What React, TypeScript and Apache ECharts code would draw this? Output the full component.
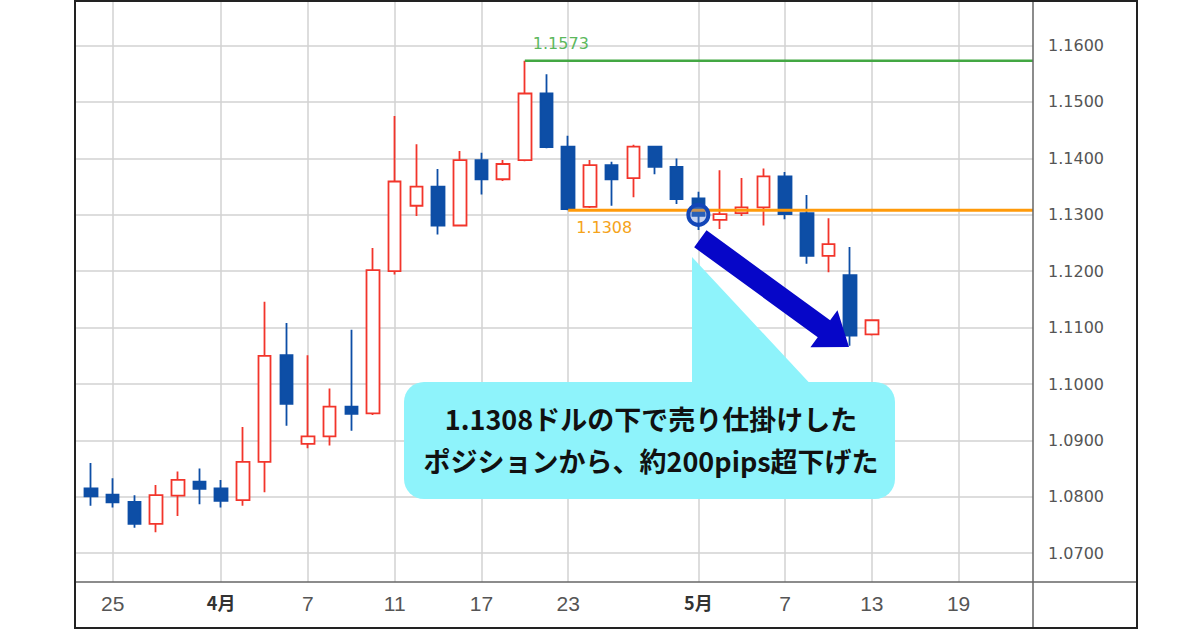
import React, { useEffect, useRef } from 'react';
import * as echarts from 'echarts';

// ---- data (EUR/USD daily) ----
const dates = [
  '3/24', '3/25', '3/26', '3/27', '3/28', '3/31', '4/1', '4/2', '4/3', '4/4',
  '4/7', '4/8', '4/9', '4/10', '4/11', '4/14', '4/15', '4/16', '4/17', '4/18',
  '4/21', '4/22', '4/23', '4/24', '4/25', '4/28', '4/29', '4/30', '5/1', '5/2',
  '5/5', '5/6', '5/7', '5/8', '5/9', '5/12', '5/13',
];
const opens = [
  1.0815, 1.0804, 1.0791, 1.0752, 1.0802, 1.0827, 1.0815, 1.0794, 1.0862, 1.1051,
  1.0894, 1.0907, 1.0960, 1.0948, 1.1200, 1.1316, 1.1350, 1.1281, 1.1397, 1.1363,
  1.1397, 1.1515, 1.1421, 1.1314, 1.1388, 1.1365, 1.1421, 1.1385, 1.1329, 1.1291,
  1.1303, 1.1313, 1.1368, 1.1303, 1.1227, 1.1193, 1.1088,
];
const closes = [
  1.0801, 1.0790, 1.0752, 1.0803, 1.0830, 1.0814, 1.0793, 1.0862, 1.1050, 1.0965,
  1.0907, 1.0960, 1.0947, 1.1202, 1.1359, 1.1350, 1.1281, 1.1397, 1.1363, 1.1390,
  1.1515, 1.1420, 1.1310, 1.1388, 1.1363, 1.1421, 1.1385, 1.1328, 1.1298, 1.1301,
  1.1313, 1.1368, 1.1301, 1.1227, 1.1248, 1.1086, 1.1113,
];
const lows = [
  1.0784, 1.0781, 1.0745, 1.0737, 1.0766, 1.0787, 1.0781, 1.0784, 1.0808, 1.0926,
  1.0886, 1.0891, 1.0917, 1.0945, 1.1194, 1.1298, 1.1265, 1.1280, 1.1336, 1.1360,
  1.1395, 1.1418, 1.1308, 1.1312, 1.1316, 1.1331, 1.1372, 1.1319, 1.1273, 1.1275,
  1.1298, 1.1281, 1.1292, 1.1213, 1.1198, 1.1068, 1.1086,
];
const highs = [
  1.0860, 1.0833, 1.0803, 1.0821, 1.0845, 1.0850, 1.0830, 1.0924, 1.1146, 1.1108,
  1.1051, 1.0992, 1.1096, 1.1241, 1.1475, 1.1425, 1.1381, 1.1413, 1.1410, 1.1397,
  1.1573, 1.1549, 1.1440, 1.1397, 1.1394, 1.1424, 1.1422, 1.1400, 1.1341, 1.1379,
  1.1365, 1.1382, 1.1376, 1.1335, 1.1294, 1.1243, 1.1115,
];

// x tick positions (trading-day index) and their labels
const xTickIdx = [1, 6, 10, 14, 18, 22, 28, 32, 36, 40];
const xTickText = ['25', '4月', '7', '11', '17', '23', '5月', '7', '13', '19'];
const yTicks = [1.07, 1.08, 1.09, 1.1, 1.11, 1.12, 1.13, 1.14, 1.15, 1.16];

// horizontal levels: [value, start index]
const highLevel = 1.1573;
const highLevelStart = 20;
const entryLevel = 1.1308;
const entryLevelStart = 22;
const entryIdx = 28; // 5/1 sell entry marker
const entryValue = 1.13;

const noteLines = ['1.1308ドルの下で売り仕掛けした', 'ポジションから、約200pips超下げた'];

const X_MIN = -0.74;
const X_MAX = 43.43;
const Y_MIN = 1.0649;
const Y_MAX = 1.1679;

const BLUE = '#0d4ea6';
const RED = '#f2352b';

export default function App() {
  const ref = useRef<HTMLDivElement>(null);
  useEffect(() => {
    if (!ref.current) return;
    const chart = echarts.init(ref.current, undefined, { renderer: 'svg' });
    const candles = dates.map((_, i) => [i, opens[i], closes[i], lows[i], highs[i]]);
    const monthSet = new Set(['4月', '5月']);
    chart.setOption({
      animation: false,
      backgroundColor: '#ffffff',
      grid: { left: 75, top: 1, right: 167, bottom: 48, containLabel: false },
      xAxis: {
        type: 'value',
        min: X_MIN,
        max: X_MAX,
        axisLine: { show: false },
        axisTick: { show: false, customValues: xTickIdx },
        splitLine: { show: true, lineStyle: { color: '#d2d2d2', width: 1.5 } },
        axisLabel: {
          customValues: xTickIdx,
          margin: 11,
          color: '#555',
          fontSize: 21,
          fontFamily: 'Liberation Sans Narrow, Liberation Sans, Noto Sans CJK JP',
          formatter: (v: number) => {
            const k = xTickIdx.indexOf(Math.round(v));
            if (k < 0) return '';
            const t = xTickText[k];
            return monthSet.has(t) ? '{b|' + t + '}' : t;
          },
          rich: {
            b: {
              fontWeight: 'bold',
              fontSize: 18,
              color: '#333',
              fontFamily: 'Noto Sans CJK JP',
            },
          },
        },
      },
      yAxis: {
        type: 'value',
        position: 'right',
        min: Y_MIN,
        max: Y_MAX,
        axisLine: { show: false },
        axisTick: { show: false, customValues: yTicks },
        splitLine: { show: true, lineStyle: { color: '#d2d2d2', width: 1.5 } },
        axisLabel: {
          customValues: yTicks,
          margin: 15,
          color: '#555',
          fontSize: 16,
          fontFamily: 'DejaVu Sans',
          formatter: (v: number) => v.toFixed(4),
        },
      },
      series: [
        {
          type: 'candlestick',
          data: candles,
          encode: { x: 0, y: [1, 2, 3, 4] },
          barWidth: 13,
          itemStyle: {
            color: '#ffffff',
            color0: BLUE,
            borderColor: RED,
            borderColor0: BLUE,
            borderWidth: 1.8,
          },
          z: 2,
        },
        {
          type: 'line',
          data: [[highLevelStart, highLevel], [X_MAX, highLevel]],
          symbol: 'none',
          lineStyle: { color: '#43a743', width: 2.5 },
          z: 3,
        },
        {
          type: 'line',
          data: [[entryLevelStart, entryLevel], [X_MAX, entryLevel]],
          symbol: 'none',
          lineStyle: { color: '#ff9a0a', width: 3 },
          z: 3,
        },
      ],
    });

    const px = (x: number, y: number) => chart.convertToPixel({ gridIndex: 0 }, [x, y]) as number[];
    const hp = px(highLevelStart, highLevel);
    const ep = px(entryLevelStart, entryLevel);
    const cp = px(entryIdx, entryValue);

    // arrow geometry
    const S = [cp[0] + 2, cp[1] + 24];
    const T = [849, 347];
    const dx = T[0] - S[0];
    const dy = T[1] - S[1];
    const len = Math.sqrt(dx * dx + dy * dy);
    const u = [dx / len, dy / len];
    const n = [-u[1], u[0]];
    const headLen = 31;
    const B = [T[0] - headLen * u[0], T[1] - headLen * u[1]];
    const p = (base: number[], k: number) => [base[0] + k * n[0], base[1] + k * n[1]];
    const arrowPts = [p(S, -10.5), p(B, -10.5), p(B, -23), T, p(B, 23), p(B, 10.5), p(S, 10.5)];

    const noteStyle = {
      fontSize: 27,
      fontWeight: 'bold',
      fontFamily: 'Noto Sans CJK JP',
      fill: '#111',
      align: 'center',
      verticalAlign: 'middle',
    };

    chart.setOption({
      graphic: [
        {
          type: 'polygon',
          z: 50,
          shape: { points: [[692, 257], [692, 390], [816, 390]] },
          style: { fill: '#8ef3fb' },
        },
        {
          type: 'rect',
          z: 50,
          shape: { x: 404, y: 382, width: 491, height: 117, r: 20 },
          style: { fill: '#8ef3fb' },
        },
        {
          type: 'text',
          z: 51,
          x: 651,
          y: 418,
          style: { ...noteStyle, text: noteLines[0] },
        },
        {
          type: 'text',
          z: 51,
          x: 651,
          y: 460,
          style: { ...noteStyle, text: noteLines[1] },
        },
        {
          type: 'polygon',
          z: 52,
          shape: { points: arrowPts },
          style: { fill: '#0606c8' },
        },
        {
          type: 'circle',
          z: 52,
          shape: { cx: cp[0], cy: cp[1], r: 10 },
          style: { fill: 'rgba(90,130,220,0.35)', stroke: '#1246b8', lineWidth: 4 },
        },
        {
          type: 'text',
          z: 52,
          x: hp[0] + 8,
          y: hp[1] - 17,
          style: {
            text: highLevel.toFixed(4),
            fontSize: 16,
            fontFamily: 'DejaVu Sans',
            fill: '#5cb85c',
            align: 'left',
            verticalAlign: 'middle',
          },
        },
        {
          type: 'text',
          z: 52,
          x: ep[0] + 8,
          y: ep[1] + 17,
          style: {
            text: entryLevel.toFixed(4),
            fontSize: 16,
            fontFamily: 'DejaVu Sans',
            fill: '#f5a31a',
            align: 'left',
            verticalAlign: 'middle',
          },
        },
        {
          type: 'line',
          z: 60,
          shape: { x1: 75, y1: 582, x2: 1137, y2: 582 },
          style: { stroke: '#666', lineWidth: 1.5 },
        },
        {
          type: 'line',
          z: 60,
          shape: { x1: 1033, y1: 1, x2: 1033, y2: 628 },
          style: { stroke: '#666', lineWidth: 1.5 },
        },
        {
          type: 'rect',
          z: 61,
          shape: { x: 75, y: 1, width: 1062, height: 627 },
          style: { fill: 'none', stroke: '#222', lineWidth: 2 },
        },
      ],
    });
    return () => chart.dispose();
  }, []);
  return (
    <div
      ref={ref}
      style={{ position: 'absolute', left: 0, top: 0, width: 1200, height: 630, background: '#fff' }}
    />
  );
}
